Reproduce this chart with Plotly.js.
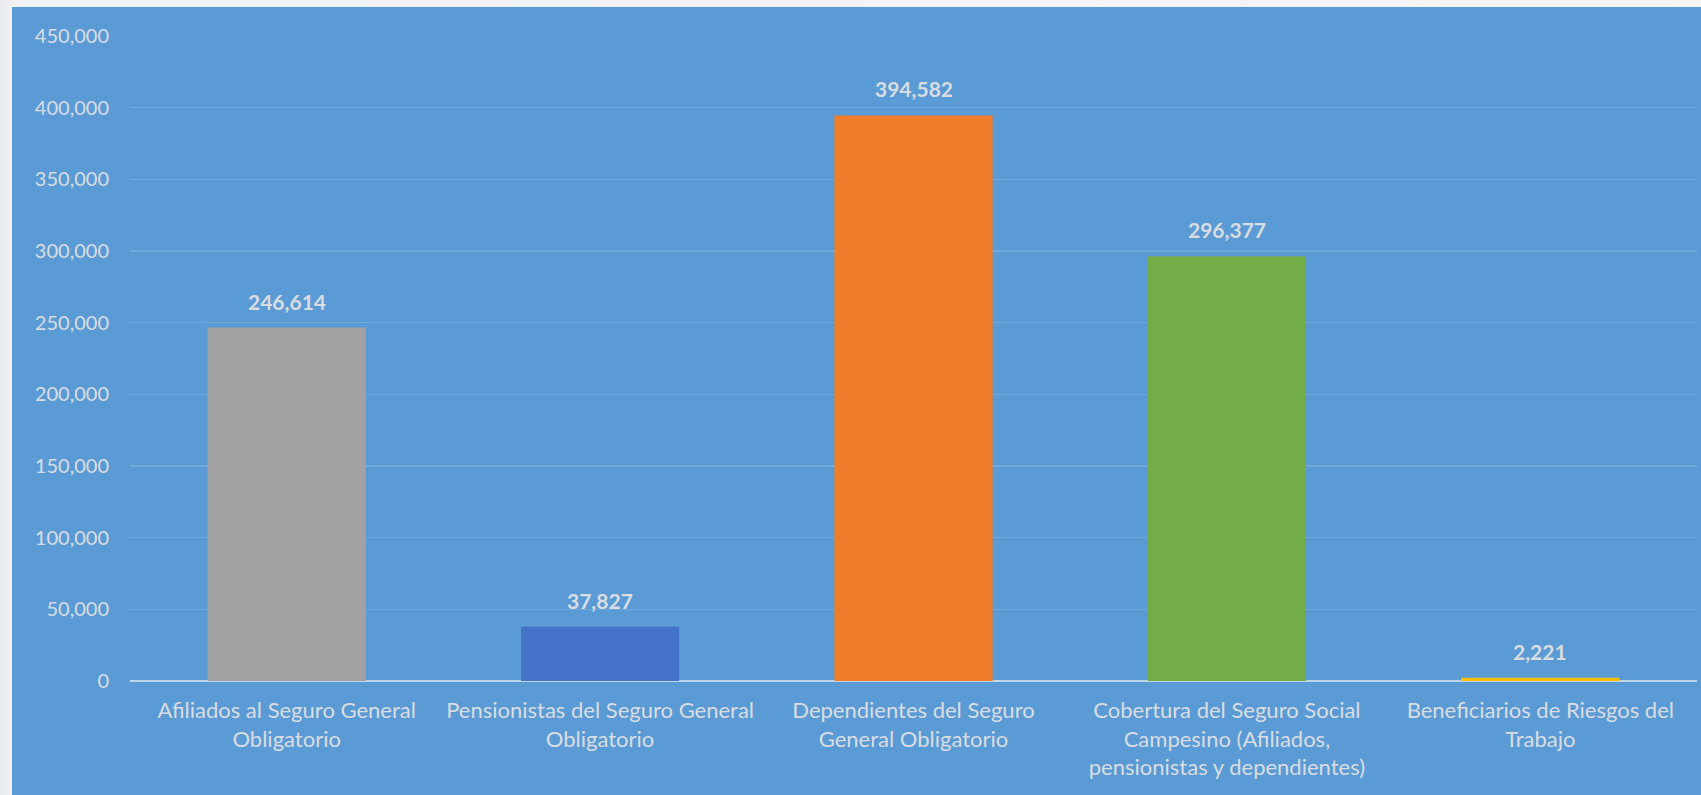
<!DOCTYPE html>
<html>
<head>
<meta charset="utf-8">
<script src="https://cdn.plot.ly/plotly-3.0.1.min.js"></script>
<style>
  html, body { margin: 0; padding: 0; width: 1701px; height: 795px; overflow: hidden;
    background: linear-gradient(90deg, #e6e8eb 0px, #f1f2f4 12px, #f5f5f6 100%); }
  #chart { position: absolute; left: 12px; top: 7px; width: 1689px; height: 788px; }
</style>
</head>
<body>
<div id="chart"></div>
<script>
const categories = [
  "Afiliados al Seguro General<br>Obligatorio",
  "Pensionistas del Seguro General<br>Obligatorio",
  "Dependientes del Seguro<br>General Obligatorio",
  "Cobertura del Seguro Social<br>Campesino (Afiliados,<br>pensionistas y dependientes)",
  "Beneficiarios de Riesgos del<br>Trabajo"
];
const values = [246614, 37827, 394582, 296377, 2221];
const barColors = ["#a2a2a2", "#4472c9", "#f07c2c", "#72ad48", "#ffc000"];
const tickVals = [0, 50000, 100000, 150000, 200000, 250000, 300000, 350000, 400000, 450000];

const fontFamily = "Lato, 'Open Sans', sans-serif";
const textColor = "#d9dde2";

const trace = {
  type: "bar",
  x: categories,
  y: values,
  marker: { color: barColors, line: { width: 0 } },
  hoverinfo: "x+y"
};

const annotations = values.map((v, i) => ({
  x: categories[i], y: v, xref: "x", yref: "y",
  text: v.toLocaleString("en-US"),
  showarrow: false, yanchor: "bottom", yshift: 12,
  font: { family: fontFamily, size: 21, color: textColor, weight: 700 }
}));

const layout = {
  width: 1689, height: 788,
  margin: { l: 118, r: 4, t: 29, b: 114 },
  paper_bgcolor: "#5b9bd5",
  plot_bgcolor: "#5b9bd5",
  showlegend: false,
  bargap: 0.495,
  font: { family: fontFamily, size: 20, color: textColor },
  xaxis: {
    type: "category",
    showgrid: false,
    showline: false,
    ticks: "",
    tickfont: { family: fontFamily, size: 22, color: textColor },
    ticklabelstandoff: 14,
    zeroline: false
  },
  yaxis: {
    range: [0, 450000],
    tickvals: tickVals,
    ticktext: tickVals.map(v => v.toLocaleString("en-US")),
    showgrid: true,
    gridcolor: "rgba(255,255,255,0.13)",
    gridwidth: 1.5,
    zeroline: true,
    zerolinecolor: "rgba(225,232,240,0.75)",
    zerolinewidth: 2.5,
    showline: false,
    ticks: "",
    ticklabelstandoff: 20,
    tickfont: { family: fontFamily, size: 20, color: textColor }
  },
  annotations: annotations
};

Plotly.newPlot("chart", [trace], layout, { displayModeBar: false, staticPlot: true });
</script>
</body>
</html>
